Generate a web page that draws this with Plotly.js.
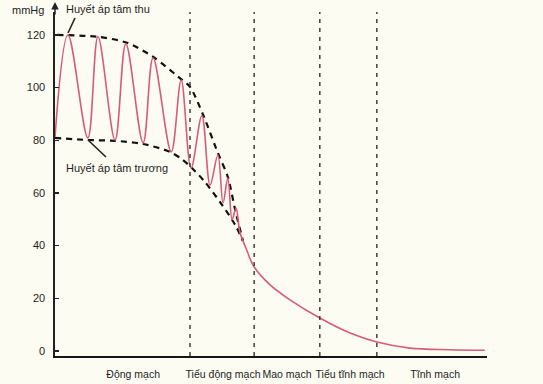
<!DOCTYPE html>
<html>
<head>
<meta charset="utf-8">
<script src="https://cdn.plot.ly/plotly-3.0.1.min.js"></script>
<style>html,body{margin:0;padding:0;background:#fcfcf2;}#chart{width:543px;height:384px;}</style>
</head>
<body>
<div id="chart"></div>
<script>
// Vessel categories along the circulation (x positions in arbitrary distance units 0-100)
const categories = ['Động mạch', 'Tiểu động mạch', 'Mao mạch', 'Tiểu tĩnh mạch', 'Tĩnh mạch'];
const categoryCenters = [18.1, 38.9, 53.7, 68.3, 88];
const boundaries = [31.25, 46.1, 61.3, 74.5];
const yTicks = [0, 20, 40, 60, 80, 100, 120];

// Pulsatile blood pressure (mmHg)
const pressureX = [0, 3.0, 7.6, 9.95, 13.9, 16.4, 20.4, 22.7, 26.9, 29.2, 31.5, 34.0, 35.9, 37.7, 38.9, 40.0, 41.0, 41.9, 42.8, 44.2, 46.1, 49.8, 54.4, 61.3, 68.3, 74.5, 82.2, 91.4, 99.5];
const pressureY = [81.3, 120, 80.9, 119.3, 80.1, 116.6, 79.0, 111.3, 75.6, 102.9, 69.5, 89.3, 63.0, 74.4, 56.2, 65.7, 49.8, 54.3, 45.2, 39.1, 31.9, 25.1, 19.4, 12.5, 6.8, 3.4, 1.1, 0.5, 0.3];

// Systolic envelope (Huyết áp tâm thu)
const systolicX = [0.5, 9.95, 16.7, 22.7, 29.4, 31.25, 34.3, 37.7, 40.0, 41.7, 43.5];
const systolicY = [120, 119.3, 117.0, 111.7, 102.9, 100.3, 89.6, 75.2, 66.1, 53.6, 41.8];

// Diastolic envelope (Huyết áp tâm trương)
const diastolicX = [0, 7.6, 13.9, 20.4, 26.6, 29.6, 31.7, 34.7, 38.7, 41.7, 43.5];
const diastolicY = [80.9, 80.1, 79.8, 78.6, 75.6, 72.5, 69.5, 64.2, 55.4, 47.9, 41.8];

const FONT = '"Liberation Sans Narrow", "Liberation Sans", Arial, sans-serif';
const TXT = '#1e1e1e';

const traces = [
  {x: systolicX, y: systolicY, mode: 'lines', line: {color: '#111', width: 2.2, dash: '6px,5px', shape: 'spline', smoothing: 0.8}, hoverinfo: 'skip'},
  {x: diastolicX, y: diastolicY, mode: 'lines', line: {color: '#111', width: 2.2, dash: '6px,5px', shape: 'spline', smoothing: 0.8}, hoverinfo: 'skip'},
  {x: pressureX, y: pressureY, mode: 'lines', line: {color: '#d65c79', width: 1.6, shape: 'spline', smoothing: 1}, hoverinfo: 'skip'}
];

const shapes = boundaries.map(b => ({
  type: 'line', xref: 'x', yref: 'paper', x0: b, x1: b, y0: 0, y1: 1,
  line: {color: '#333', width: 1.4, dash: '4px,5px'}
}));
shapes.push({type: 'line', xref: 'paper', yref: 'paper', x0: 0.0463, y0: 0.9826, x1: 0.0301, y1: 0.939, line: {color: '#222', width: 1.6}});
shapes.push({type: 'line', xref: 'paper', yref: 'paper', x0: 0.0764, y0: 0.628, x1: 0.118, y1: 0.5785, line: {color: '#222', width: 1.6}});

const annotations = [
  {text: 'mmHg', xref: 'paper', yref: 'paper', x: -0.0625, y: 1.006, showarrow: false, xanchor: 'center', yanchor: 'middle', font: {family: FONT, size: 11, color: TXT}},
  {text: 'Huyết áp tâm thu', xref: 'paper', yref: 'paper', x: 0.1227, y: 1.0087, showarrow: false, xanchor: 'center', yanchor: 'middle', font: {family: FONT, size: 11, color: TXT}},
  {text: 'Huyết áp tâm trương', xref: 'paper', yref: 'paper', x: 0.1435, y: 0.5465, showarrow: false, xanchor: 'center', yanchor: 'middle', font: {family: FONT, size: 11, color: TXT}},
  {text: '', xref: 'paper', yref: 'paper', x: 0, y: 1.029, ax: 0, ay: 14, showarrow: true, arrowhead: 2, arrowsize: 1, arrowwidth: 1.5, arrowcolor: '#222'}
];

const layout = {
  width: 543, height: 384,
  margin: {l: 55, r: 56, t: 12, b: 28, pad: 0},
  paper_bgcolor: '#fcfcf2', plot_bgcolor: 'rgba(0,0,0,0)',
  showlegend: false,
  font: {family: FONT, color: TXT},
  xaxis: {
    range: [0, 100], showgrid: false, zeroline: false, showline: true, linecolor: '#151515', linewidth: 2,
    tickmode: 'array', tickvals: categoryCenters, ticktext: categories, ticks: '', tickangle: 0,
    tickfont: {family: FONT, size: 10.5, color: TXT}, ticklabelstandoff: 7, fixedrange: true
  },
  yaxis: {
    range: [-1.9, 128.7], showgrid: false, zeroline: false, showline: true, linecolor: '#222', linewidth: 1.6,
    tickmode: 'array', tickvals: yTicks, ticks: 'inside', ticklen: 4, tickwidth: 1.5, tickcolor: '#222',
    tickfont: {family: FONT, size: 11, color: TXT}, ticklabelstandoff: 6, fixedrange: true
  },
  shapes: shapes,
  annotations: annotations
};

Plotly.newPlot('chart', traces, layout, {displayModeBar: false, staticPlot: true});
</script>
</body>
</html>
